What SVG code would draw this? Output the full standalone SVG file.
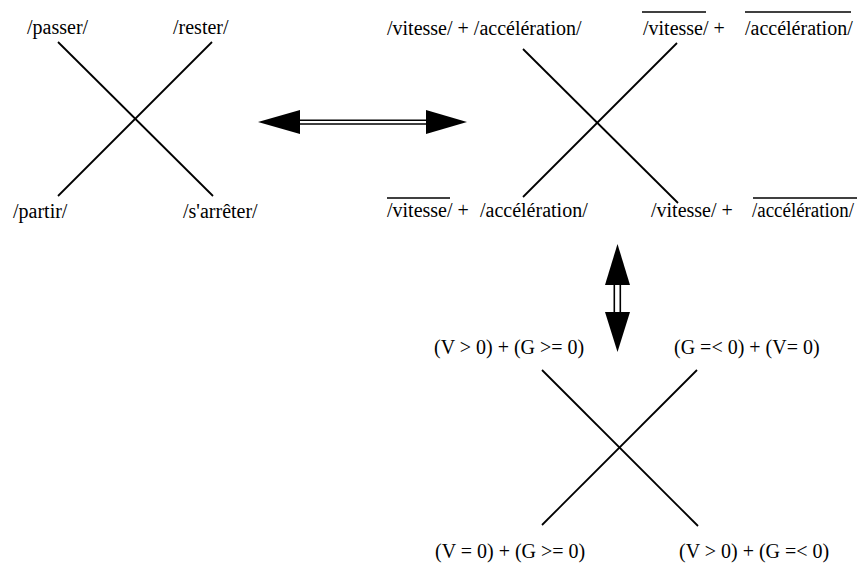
<svg xmlns="http://www.w3.org/2000/svg" width="858" height="563" viewBox="0 0 858 563">
<style>
  text { font-family: "Liberation Serif", "Times New Roman", serif; font-size: 20px; fill: #000; }
  .x { stroke: #000; stroke-width: 1.8; fill: none; }
  .ov { stroke: #000; stroke-width: 1.5; }
  .shaft { stroke: #000; stroke-width: 1.6; fill: none; }
  .head { fill: #000; stroke: none; }
</style>
<rect width="858" height="563" fill="#fff"/>
<g id="square-verbs">
  <line class="x" x1="58" y1="42" x2="213" y2="196"/>
  <line class="x" x1="212" y1="42" x2="58" y2="196"/>
  <text x="27" y="34">/passer/</text>
  <text x="173" y="34">/rester/</text>
  <text x="13" y="218">/partir/</text>
  <text x="183" y="218">/s'arrêter/</text>
</g>
<g id="square-semes">
  <line class="x" x1="523" y1="49" x2="678" y2="203"/>
  <line class="x" x1="677" y1="43" x2="523" y2="197"/>
  <text x="387" y="35">/vitesse/ + /accélération/</text>
  <text x="643" y="35">/vitesse/ +</text>
  <text x="745" y="35">/accélération/</text>
  <line class="ov" x1="642" y1="12" x2="706" y2="12"/>
  <line class="ov" x1="745" y1="12" x2="851" y2="12"/>
  <text x="387" y="217">/vitesse/ +</text>
  <text x="480" y="217">/accélération/</text>
  <line class="ov" x1="387" y1="198" x2="450" y2="198"/>
  <text x="651" y="217">/vitesse/ +</text>
  <text x="752" y="217" textLength="102" lengthAdjust="spacingAndGlyphs">/accélération/</text>
  <line class="ov" x1="753" y1="198" x2="857" y2="198"/>
</g>
<g id="square-formulas">
  <line class="x" x1="542" y1="370" x2="698" y2="526"/>
  <line class="x" x1="697" y1="370" x2="542" y2="525"/>
  <text x="434" y="354">(V &gt; 0) + (G &gt;= 0)</text>
  <text x="674" y="354">(G =&lt; 0) + (V= 0)</text>
  <text x="435" y="558">(V = 0) + (G &gt;= 0)</text>
  <text x="679" y="558">(V &gt; 0) + (G =&lt; 0)</text>
</g>
<g id="connectors">
  <g id="arrow-h">
    <line class="shaft" x1="299" y1="120.2" x2="427" y2="120.2"/>
    <line class="shaft" x1="299" y1="124" x2="427" y2="124"/>
    <polygon class="head" points="258,122 300,110 300,134"/>
    <polygon class="head" points="467,122 426,110 426,134"/>
  </g>
  <g id="arrow-v">
    <line class="shaft" x1="614.3" y1="284" x2="614.3" y2="313"/>
    <line class="shaft" x1="620.3" y1="284" x2="620.3" y2="313"/>
    <polygon class="head" points="617.5,244 605,285 630,285"/>
    <polygon class="head" points="617.5,352 605,312 630,312"/>
  </g>
</g>
</svg>
